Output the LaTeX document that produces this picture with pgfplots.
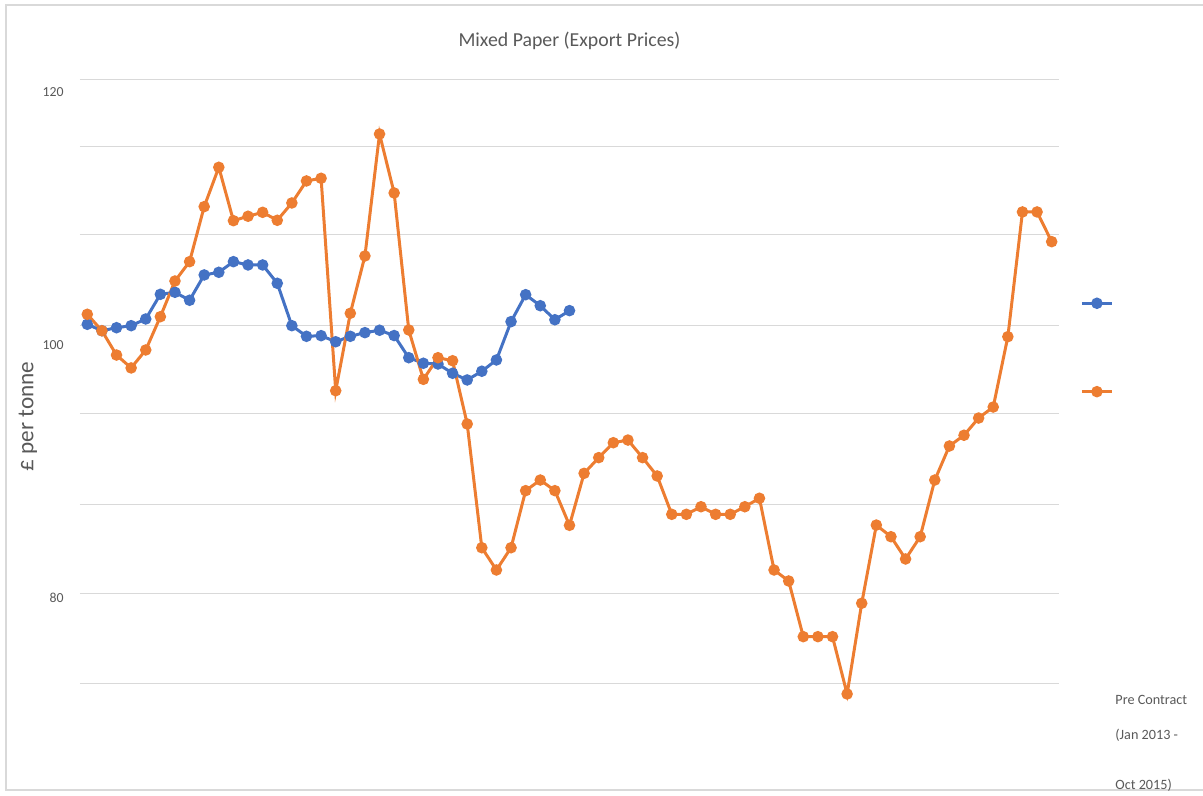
\documentclass[border=0pt]{standalone}
\usepackage{fontspec}
\setmainfont{Carlito}
\usepackage{pgfplots}
\pgfplotsset{compat=1.18}
\definecolor{cblue}{HTML}{4472C4}
\definecolor{corange}{HTML}{ED7D31}
\definecolor{cgrid}{HTML}{D9D9D9}
\definecolor{ctext}{HTML}{595959}
\begin{document}
\begin{tikzpicture}
\useasboundingbox (0,0) rectangle (601.5bp,398bp);
\draw[cgrid, line width=0.6bp] (3bp,3bp) rectangle (610bp,395.5bp);
\begin{axis}[
  at={(40bp,3bp)}, anchor=south west,
  scale only axis, width=489.5bp, height=355bp,
  xmin=-0.5, xmax=66.5, ymin=64.85, ymax=120.97,
  axis line style={draw=none}, tick style={draw=none},
  xtick=\empty,
  ytick={73.30,80.42,87.45,94.57,101.60,108.76,115.75,120.97},
  yticklabels={},
  ymajorgrids, grid style={cgrid, line width=0.5bp},
  extra y ticks={120,100,80},
  extra y tick labels={120,100,80},
  extra y tick style={grid=none},
  yticklabel style={font=\fontsize{6.9bp}{8bp}\selectfont, color=ctext, xshift=-4.7bp},
  title={Mixed Paper (Export Prices)},
  title style={at={(axis description cs:0.5,1.0377)}, anchor=center, font=\fontsize{9.9bp}{12bp}\selectfont, color=ctext},
  ylabel={£ per tonne},
  ylabel style={at={(axis description cs:-0.0531,0.526)}, anchor=center, font=\fontsize{11.6bp}{13bp}\selectfont, color=ctext},
  legend image code/.code={\draw[mark repeat=2,mark phase=2,#1] plot coordinates {(0bp,0bp) (7.5bp,0bp) (15bp,0bp)};},
  legend style={draw=none, fill=none, at={(axis description cs:1.0215,0.692)}, anchor=north west, inner sep=0pt, row sep=40bp, nodes={inner sep=0pt}},
]
\addplot[cblue, line width=1.5bp, mark=*, mark size=2.1bp, mark options={solid, fill=cblue, draw=cblue}] coordinates {
(0,101.66)(1,101.15)(2,101.39)(3,101.55)(4,102.08)(5,104.03)(6,104.19)(7,103.56)(8,105.56)(9,105.77)(10,106.61)(11,106.35)(12,106.35)(13,104.90)(14,101.55)(15,100.71)(16,100.76)(17,100.28)(18,100.71)(19,101.00)(20,101.19)(21,100.77)(22,99.02)(23,98.58)(24,98.52)(25,97.79)(26,97.26)(27,97.95)(28,98.84)(29,101.87)(30,104.00)(31,103.13)(32,102.02)(33,102.74)
};
\addlegendentry{\mbox{}}
\addplot[corange, line width=1.5bp, mark=*, mark size=2.1bp, mark options={solid, fill=corange, draw=corange}] coordinates {
(0,102.45)(1,101.15)(2,99.23)(3,98.21)(4,99.63)(5,102.26)(6,105.08)(7,106.61)(8,110.96)(9,114.07)(10,109.85)(11,110.20)(12,110.51)(13,109.88)(14,111.25)(15,112.99)(16,113.20)(17,96.41)(18,102.53)(19,107.06)(20,116.70)(21,112.04)(22,101.21)(23,97.31)(24,99.02)(25,98.78)(26,93.78)(27,84.00)(28,82.24)(29,84.00)(30,88.51)(31,89.35)(32,88.51)(33,85.77)(34,89.88)(35,91.12)(36,92.30)(37,92.51)(38,91.12)(39,89.67)(40,86.64)(41,86.64)(42,87.24)(43,86.64)(44,86.64)(45,87.24)(46,87.91)(47,82.24)(48,81.37)(49,76.97)(50,76.97)(51,76.97)(52,72.44)(53,79.61)(54,85.79)(55,84.87)(56,83.11)(57,84.87)(58,89.35)(59,92.04)(60,92.89)(61,94.25)(62,95.12)(63,100.68)(64,110.54)(65,110.54)(66,108.19)
};
\addlegendentry{\mbox{}}
\end{axis}
\node[anchor=west, inner sep=0pt, font=\fontsize{7.1bp}{8bp}\selectfont, color=ctext] at (557.5bp,48bp) {Pre Contract};
\node[anchor=west, inner sep=0pt, font=\fontsize{7.1bp}{8bp}\selectfont, color=ctext] at (557.5bp,30.5bp) {(Jan 2013 -};
\node[anchor=west, inner sep=0pt, font=\fontsize{7.1bp}{8bp}\selectfont, color=ctext] at (557.5bp,5.5bp) {Oct 2015)};
\end{tikzpicture}
\end{document}
